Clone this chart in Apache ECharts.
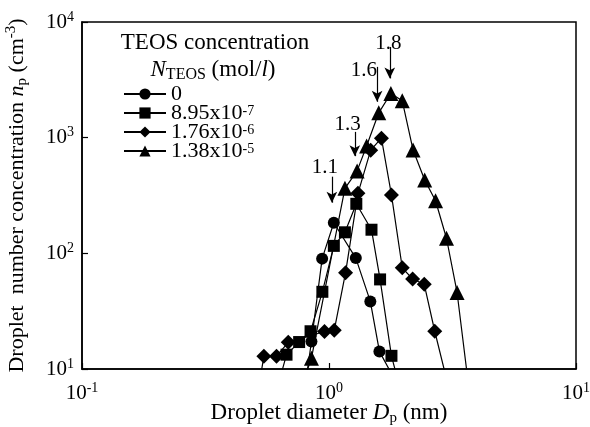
<!DOCTYPE html>
<html><head><meta charset="utf-8">
<script src="https://cdn.jsdelivr.net/npm/echarts@6.0.0/dist/echarts.min.js"></script>
<style>html,body{margin:0;padding:0;background:#fff}#c{width:590px;height:427px}</style>
</head><body><div id="c"></div>
<script>
// ---- data (Dp in nm, np in cm^-3) ----
const seriesNames = ['0', '8.95x10-7', '1.76x10-6', '1.38x10-5'];
const seriesSymbols = ['circle', 'rect', 'diamond', 'triangle'];
const dataC0 = [[0.80,7],[0.849,17.3],[0.938,90],[1.046,184],[1.284,91],[1.47,38.4],[1.60,14.2],[1.85,8]];
const dataC1 = [[0.63,8],[0.673,13.3],[0.757,17.1],[0.842,21.2],[0.94,46.5],[1.046,116],[1.16,152],[1.29,268],[1.486,160],[1.61,59.5],[1.79,13],[1.9,8]];
const dataC2 = [[0.525,8],[0.545,12.9],[0.613,12.9],[0.684,17],[0.959,21.1],[1.05,21.6],[1.167,68],[1.31,330],[1.475,780],[1.63,990],[1.79,320],[1.98,75],[2.18,60],[2.43,54],[2.68,21.2],[3.0,8]];
const dataC3 = [[0.79,8],[0.849,12.4],[1.16,365],[1.30,516],[1.42,846],[1.59,1640],[1.78,2411],[1.98,2081],[2.19,781],[2.44,431],[2.70,285],[2.99,135],[3.30,45.9],[3.65,8]];
const seriesData = [dataC0, dataC1, dataC2, dataC3];
// peak annotations
const peakLabels = ['1.1', '1.3', '1.6', '1.8'];
const peakX = [1.027, 1.272, 1.566, 1.762];
const arrowFrom = [460, 1122, 4093, 6085];
const arrowTo = [274, 692, 2042, 3251];
const peakLabelX = [0.962, 1.19, 1.383, 1.738];
const peakLabelY = [547, 1309, 3828, 6547];
const xTicks = [0.1, 1, 10];
const yTicks = [10, 100, 1000, 10000];

const FF = '"Liberation Serif", "Times New Roman", serif';
const chart = echarts.init(document.getElementById('c'));

const supRich = {
  b: {fontFamily: FF, fontSize: 21, lineHeight: 24, color: '#000'},
  s: {fontFamily: FF, fontSize: 14, lineHeight: 14, verticalAlign: 'top', color: '#000'}
};
function powLabel(v) {
  const e = Math.round(Math.log10(v));
  return '{b|10}{s|' + e + '}';
}

const series = seriesNames.map((n, i) => ({
  name: n,
  type: 'line',
  data: seriesData[i],
  symbol: seriesSymbols[i],
  symbolSize: [12, 12, 15, 15][i],
  showAllSymbol: true,
  clip: true,
  lineStyle: {color: '#000', width: 1.2},
  itemStyle: {color: '#000'},
  emphasis: {disabled: true},
  z: 3
}));

series[3].markLine = {
  silent: true,
  symbol: ['none', 'arrow'],
  symbolSize: [8, 11],
  lineStyle: {color: '#000', width: 1.2, type: 'solid'},
  label: {show: false},
  data: peakX.map((x, i) => [{coord: [x, arrowFrom[i]]}, {coord: [x, arrowTo[i]]}])
};
series[3].markPoint = {
  silent: true,
  symbol: 'circle',
  symbolSize: 1,
  itemStyle: {color: 'rgba(0,0,0,0)'},
  label: {show: true, position: 'inside', formatter: '{b}', color: '#000', fontFamily: FF, fontSize: 21},
  data: peakLabels.map((t, i) => ({name: t, coord: [peakLabelX[i], peakLabelY[i]]}))
};

chart.setOption({
  animation: false,
  backgroundColor: '#fff',
  grid: {left: 82, right: 14, top: 22, bottom: 58, outerBoundsMode: 'none', containLabel: false,
         show: true, borderColor: '#000', borderWidth: 1.5, backgroundColor: 'transparent'},
  xAxis: {
    type: 'log', logBase: 10, min: xTicks[0], max: xTicks[xTicks.length - 1],
    axisLine: {show: true, lineStyle: {color: '#000', width: 1.5}},
    axisTick: {show: true, inside: true, length: 6, lineStyle: {color: '#000', width: 1.2}},
    minorTick: {show: false},
    splitLine: {show: false},
    axisLabel: {formatter: powLabel, rich: supRich, margin: 12, color: '#000'},
    name: '{t|Droplet diameter }{i|D}{sub|p}{t| (nm)}',
    nameLocation: 'middle', nameGap: 31, nameMoveOverlap: false,
    nameTextStyle: {rich: {
      t: {fontFamily: FF, fontSize: 23, color: '#000', lineHeight: 26},
      i: {fontFamily: FF, fontSize: 23, fontStyle: 'italic', color: '#000', lineHeight: 26},
      sub: {fontFamily: FF, fontSize: 15, color: '#000', lineHeight: 18, verticalAlign: 'bottom'}
    }}
  },
  yAxis: {
    type: 'log', logBase: 10, min: yTicks[0], max: yTicks[yTicks.length - 1],
    axisLine: {show: true, lineStyle: {color: '#000', width: 1.5}},
    axisTick: {show: true, inside: true, length: 6, lineStyle: {color: '#000', width: 1.2}},
    minorTick: {show: false},
    splitLine: {show: false},
    axisLabel: {formatter: powLabel, rich: supRich, margin: 8, color: '#000'},
    name: '{t|Droplet  number concentration }{i|n}{sub|p}{t| (cm}{sup|-3}{t|)}',
    nameLocation: 'middle', nameGap: 52, nameRotate: 90, nameMoveOverlap: false,
    nameTextStyle: {rich: {
      t: {fontFamily: FF, fontSize: 22, color: '#000', lineHeight: 26},
      i: {fontFamily: FF, fontSize: 22, fontStyle: 'italic', color: '#000', lineHeight: 26},
      sub: {fontFamily: FF, fontSize: 15, color: '#000', lineHeight: 18, verticalAlign: 'bottom'},
      sup: {fontFamily: FF, fontSize: 15, color: '#000', lineHeight: 15, verticalAlign: 'top'}
    }}
  },
  legend: {
    orient: 'vertical', left: 123, top: 83, padding: 0,
    itemWidth: 42, itemHeight: 14, itemGap: -3,
    selectedMode: false,
    data: seriesNames,
    formatter: n => {
      const m = n.match(/^(.*x10)(-\d)$/);
      return m ? '{t|' + m[1] + '}{s|' + m[2] + '}' : '{t|' + n + '}';
    },
    textStyle: {fontFamily: FF, fontSize: 22, color: '#000', padding: [0, 0, 0, 0], rich: {
      t: {fontFamily: FF, fontSize: 22, color: '#000', lineHeight: 18},
      s: {fontFamily: FF, fontSize: 14, color: '#000', lineHeight: 12, verticalAlign: 'top'}
    }}
  },
  graphic: [
    {type: 'text', x: 215, y: 43, silent: true,
     style: {text: 'TEOS concentration', fontFamily: FF, fontSize: 23, fill: '#000', align: 'center', verticalAlign: 'middle'}},
    {type: 'text', x: 213, y: 70, silent: true,
     style: {text: '{i|N}{sub|TEOS}{t| (mol/}{i|l}{t|)}', align: 'center', verticalAlign: 'middle',
       rich: {
         t: {fontFamily: FF, fontSize: 23, fill: '#000', lineHeight: 26},
         i: {fontFamily: FF, fontSize: 23, fontStyle: 'italic', fill: '#000', lineHeight: 26},
         sub: {fontFamily: FF, fontSize: 16, fill: '#000', lineHeight: 18, verticalAlign: 'bottom'}
       }}}
  ],
  series: series
});
</script>
</body></html>
